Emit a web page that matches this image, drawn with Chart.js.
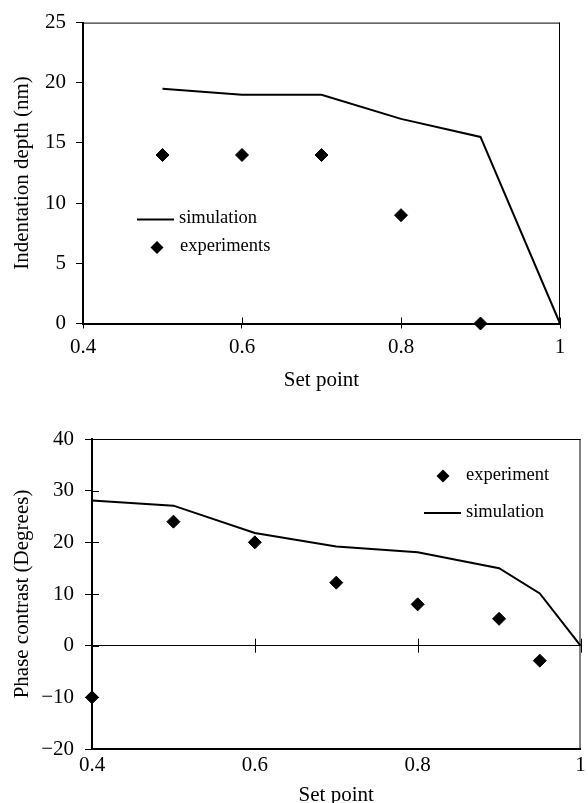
<!DOCTYPE html>
<html>
<head>
<meta charset="utf-8">
<title>Set point charts</title>
<script src="https://cdn.jsdelivr.net/npm/chart.js@4.4.1/dist/chart.umd.min.js"></script>
<style>
  html, body { margin: 0; padding: 0; background: #fff; overflow: hidden; }
  .box { position: absolute; left: 0; width: 588px; }
  #top-box { top: 0; height: 400px; }
  #bottom-box { top: 400px; height: 403px; }
  canvas { display: block; }
</style>
</head>
<body>
<div class="box" id="top-box"><canvas id="depth-chart" width="588" height="400"></canvas></div>
<div class="box" id="bottom-box"><canvas id="phase-chart" width="588" height="403"></canvas></div>
<script>
// Top chart: indentation depth vs set point
const depthTicksX = [0.4, 0.6, 0.8, 1];
const depthTicksY = [0, 5, 10, 15, 20, 25];
const depthSimSetPoint = [0.5, 0.6, 0.7, 0.8, 0.9, 1];
const depthSim = [19.5, 19.0, 19.0, 17.0, 15.5, 0];
const depthExpSetPoint = [0.5, 0.6, 0.7, 0.8, 0.9];
const depthExp = [14, 14, 14, 9, 0];

// Bottom chart: phase contrast vs set point
const phaseTicksX = [0.4, 0.6, 0.8, 1];
const phaseTicksY = [-20, -10, 0, 10, 20, 30, 40];
const phaseSimSetPoint = [0.4, 0.5, 0.6, 0.7, 0.8, 0.9, 0.95, 1];
const phaseSim = [28.1, 27.1, 21.8, 19.2, 18.1, 15.0, 10.1, 0];
const phaseExpSetPoint = [0.4, 0.5, 0.6, 0.7, 0.8, 0.9, 0.95];
const phaseExp = [-10, 24, 20, 12.2, 8, 5.2, -2.9];

const FONT = '"Liberation Serif", "Times New Roman", serif';
Chart.defaults.font.family = FONT;
Chart.defaults.font.size = 21;
Chart.defaults.color = '#000';

const toPoints = (xs, ys) => xs.map((x, i) => ({ x: x, y: ys[i] }));
const fmt = v => (v < 0 ? '\u2212' + (-v) : String(v));

// thin top/right frame, inner tick marks and a small legend inside the plot
const framePlugin = {
  id: 'frame',
  beforeDatasetsDraw(chart, args, opts) {
    const { ctx, chartArea: a, scales: { x, y } } = chart;
    ctx.save();
    ctx.strokeStyle = '#000';
    ctx.lineWidth = 1;
    ctx.beginPath();
    ctx.moveTo(a.left, a.top + 0.5);
    ctx.lineTo(a.right, a.top + 0.5);
    ctx.moveTo(a.right - 0.5, a.top);
    ctx.lineTo(a.right - 0.5, a.bottom);
    const base = y.getPixelForValue(opts.xTickOn);
    x.ticks.forEach(t => {
      const px = Math.round(x.getPixelForValue(t.value)) + 0.5;
      ctx.moveTo(px, base + opts.xTickDown);
      ctx.lineTo(px, base - opts.xTickUp);
    });
    if (opts.yTickIn) {
      y.ticks.forEach(t => {
        const py = Math.round(y.getPixelForValue(t.value)) + 0.5;
        ctx.moveTo(a.left, py);
        ctx.lineTo(a.left + opts.yTickIn, py);
      });
    }
    ctx.stroke();

    // legend
    ctx.font = '18.5px ' + FONT;
    ctx.fillStyle = '#000';
    ctx.textBaseline = 'middle';
    ctx.textAlign = 'left';
    opts.legend.forEach(item => {
      const lx = a.left + item.x;
      const ly = a.top + item.y;
      if (item.kind === 'line') {
        ctx.beginPath();
        ctx.lineWidth = 2;
        ctx.moveTo(lx, ly);
        ctx.lineTo(lx + 37, ly);
        ctx.stroke();
      } else {
        const cx = lx + 19, r = 6.5;
        ctx.beginPath();
        ctx.moveTo(cx - r, ly);
        ctx.lineTo(cx, ly - r);
        ctx.lineTo(cx + r, ly);
        ctx.lineTo(cx, ly + r);
        ctx.closePath();
        ctx.fill();
      }
      ctx.fillText(item.text, lx + 42, ly - 1);
    });
    ctx.restore();
  }
};

function makeChart(canvas, cfg) {
  return new Chart(canvas, {
    type: 'scatter',
    data: {
      datasets: [{
        label: 'simulation',
        data: toPoints(cfg.simX, cfg.simY),
        showLine: true,
        borderColor: '#000',
        borderWidth: 2,
        pointRadius: 0,
        tension: 0,
        clip: false
      }, {
        label: cfg.expLabel,
        data: toPoints(cfg.expX, cfg.expY),
        showLine: false,
        pointStyle: 'rectRot',
        pointRadius: 6.5,
        backgroundColor: '#000',
        borderColor: '#000',
        borderWidth: 1,
        clip: false
      }]
    },
    options: {
      responsive: false,
      animation: false,
      layout: { padding: cfg.padding },
      plugins: {
        legend: { display: false },
        tooltip: { enabled: false },
        frame: cfg.frame
      },
      scales: {
        x: {
          type: 'linear',
          min: cfg.xTicks[0],
          max: cfg.xTicks[cfg.xTicks.length - 1],
          afterBuildTicks: s => { s.ticks = cfg.xTicks.map(v => ({ value: v })); },
          afterFit: s => { s.height = cfg.xHeight; s.paddingLeft = 0; s.paddingRight = 0; },
          ticks: { padding: cfg.xTickPad, maxRotation: 0, autoSkip: false, callback: v => fmt(v) },
          grid: { drawOnChartArea: false, drawTicks: cfg.xTickOut > 0, tickLength: cfg.xTickOut, color: '#000', lineWidth: 1 },
          border: { color: '#000', width: 2 },
          title: { display: true, text: 'Set point', padding: { top: 0, bottom: cfg.xTitlePad } }
        },
        y: {
          type: 'linear',
          min: cfg.yTicks[0],
          max: cfg.yTicks[cfg.yTicks.length - 1],
          afterBuildTicks: s => { s.ticks = cfg.yTicks.map(v => ({ value: v })); },
          afterFit: s => { s.width = cfg.yWidth; },
          ticks: { padding: cfg.yTickPad, autoSkip: false, callback: v => fmt(v) },
          grid: {
            drawOnChartArea: cfg.zeroLine,
            tickLength: 7,
            tickColor: '#000',
            color: c => (cfg.zeroLine && c.tick && c.tick.value === 0 ? '#000' : 'rgba(0,0,0,0)'),
            lineWidth: 1
          },
          border: { color: '#000', width: 2 },
          title: { display: true, text: cfg.yTitle, padding: { top: 9.4, bottom: 0 } }
        }
      }
    },
    plugins: [framePlugin]
  });
}

makeChart(document.getElementById('depth-chart'), {
  simX: depthSimSetPoint, simY: depthSim,
  expX: depthExpSetPoint, expY: depthExp, expLabel: 'experiments',
  xTicks: depthTicksX, yTicks: depthTicksY,
  padding: { top: 22, right: 28, left: 0, bottom: 0 },
  xHeight: 76.5, xTickPad: 6, xTickOut: 5, xTitlePad: 7.4,
  yWidth: 83, yTickPad: 10, zeroLine: false,
  yTitle: 'Indentation depth (nm)',
  frame: {
    xTickOn: 0, xTickUp: 6, xTickDown: 0, yTickIn: 0,
    legend: [
      { kind: 'line', text: 'simulation', x: 54, y: 197 },
      { kind: 'point', text: 'experiments', x: 55, y: 225 }
    ]
  }
});

makeChart(document.getElementById('phase-chart'), {
  simX: phaseSimSetPoint, simY: phaseSim,
  expX: phaseExpSetPoint, expY: phaseExp, expLabel: 'experiment',
  xTicks: phaseTicksX, yTicks: phaseTicksY,
  padding: { top: 39, right: 3, left: 0, bottom: 0 },
  xHeight: 54, xTickPad: 3.4, xTickOut: 0, xTitlePad: -4.6,
  yWidth: 92, yTickPad: 11, zeroLine: true,
  yTitle: 'Phase contrast (Degrees)',
  frame: {
    xTickOn: 0, xTickUp: 7, xTickDown: 7, yTickIn: 7,
    legend: [
      { kind: 'point', text: 'experiment', x: 332, y: 37 },
      { kind: 'line', text: 'simulation', x: 332, y: 74 }
    ]
  }
});
</script>
</body>
</html>
